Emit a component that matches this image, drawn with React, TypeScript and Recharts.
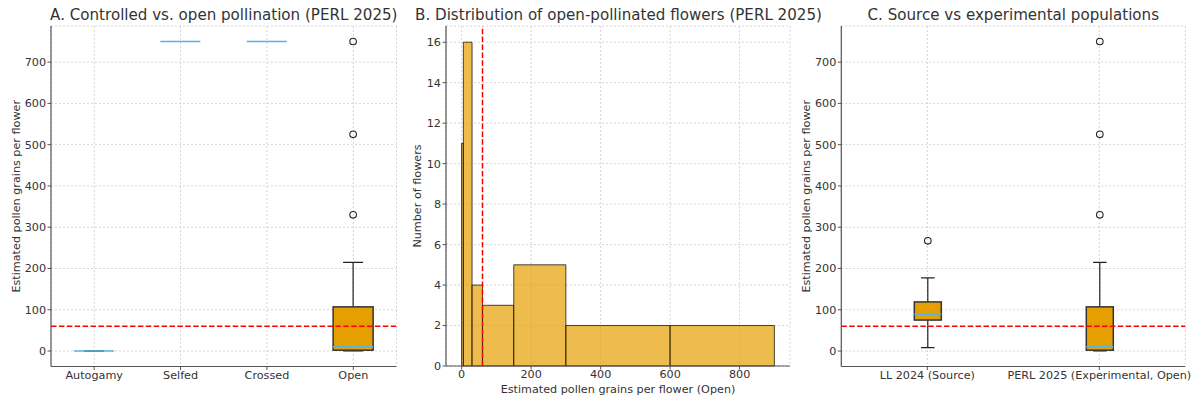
import React from 'react';
import {
  ComposedChart,
  Bar,
  Line,
  XAxis,
  YAxis,
  CartesianGrid,
  ReferenceLine,
  ReferenceArea,
  Label,
} from 'recharts';

// ---------- Data ----------
const groupsA = ['Autogamy', 'Selfed', 'Crossed', 'Open'];
const whiskerLowA = [0, 750, 750, 0];
const q1A = [0, 750, 750, 2];
const medianA = [0, 750, 750, 10];
const q3A = [0, 750, 750, 107];
const whiskerHighA = [0, 750, 750, 215];
const outliersA: number[][] = [[], [], [], [330, 525, 750]];

const groupsC = ['LL 2024 (Source)', 'PERL 2025 (Experimental, Open)'];
const whiskerLowC = [8, 0];
const q1C = [75, 2];
const medianC = [89, 10];
const q3C = [119, 107];
const whiskerHighC = [177, 215];
const outliersC: number[][] = [[267], [330, 525, 750]];

const binEdges = [0, 5, 30, 60, 150, 300, 600, 900];
const binCounts = [11, 16, 4, 3, 5, 2, 2];

const threshold = 60;

const yTicksBox = [0, 100, 200, 300, 400, 500, 600, 700];
const yDomainBox: [number, number] = [-37.5, 787.5];
const xTicksHist = [0, 200, 400, 600, 800];
const xDomainHist: [number, number] = [-45, 945];
const yTicksHist = [0, 2, 4, 6, 8, 10, 12, 14, 16];
const yDomainHist: [number, number] = [0, 16.8];

// ---------- Build tables ----------
const tableA = groupsA.map((name, i) => ({
  name,
  lo: whiskerLowA[i],
  q1: q1A[i],
  med: medianA[i],
  q3: q3A[i],
  hi: whiskerHighA[i],
  out: outliersA[i],
}));
const tableC = groupsC.map((name, i) => ({
  name,
  lo: whiskerLowC[i],
  q1: q1C[i],
  med: medianC[i],
  q3: q3C[i],
  hi: whiskerHighC[i],
  out: outliersC[i],
}));
const tableHist = binCounts.map((c, i) => ({
  lo: binEdges[i],
  hi: binEdges[i + 1],
  mid: (binEdges[i] + binEdges[i + 1]) / 2,
  count: c,
}));

// ---------- Styles ----------
const FONT = "'DejaVu Sans', sans-serif";
const TEXT = '#333333';
const AXIS = '#555555';
const GRID = '#d5d5d5';
const ORANGE = '#E69F00';
const BLUE = '#56B4E9';
const FS = 11.2;

const tickStyle = { fontSize: FS, fill: TEXT, fontFamily: FONT };
const labelStyle = { textAnchor: 'middle' as const, fontSize: FS, fill: TEXT, fontFamily: FONT };

const BoxShape = (props: any) => {
  const { x, y, width, height, payload } = props;
  const [d0, d1] = yDomainBox;
  const py = (v: number) => y + (height * (d1 - v)) / (d1 - d0);
  const cx = x + width / 2;
  const capHalf = width / 4;
  const boxTop = py(payload.q3);
  const boxBot = py(payload.q1);
  return (
    <g>
      <line x1={cx} x2={cx} y1={py(payload.hi)} y2={boxTop} stroke="#222" strokeWidth={1.2} />
      <line x1={cx} x2={cx} y1={boxBot} y2={py(payload.lo)} stroke="#222" strokeWidth={1.2} />
      <line x1={cx - capHalf} x2={cx + capHalf} y1={py(payload.hi)} y2={py(payload.hi)} stroke="#222" strokeWidth={1.2} />
      <line x1={cx - capHalf} x2={cx + capHalf} y1={py(payload.lo)} y2={py(payload.lo)} stroke="#222" strokeWidth={1.2} />
      {boxBot - boxTop > 0.5 && (
        <rect x={x} y={boxTop} width={width} height={boxBot - boxTop} fill={ORANGE} stroke="#333" strokeWidth={1.5} />
      )}
      <line x1={x} x2={x + width} y1={py(payload.med)} y2={py(payload.med)} stroke={BLUE} strokeWidth={1.6} />
      {payload.out.map((o: number, j: number) => (
        <circle key={'o' + j} cx={cx} cy={py(o)} r={3.3} fill="none" stroke="#222" strokeWidth={1.1} />
      ))}
    </g>
  );
};

const Title = ({ center, text }: { center: number; text: string }) => (
  <div
    style={{
      position: 'absolute',
      left: center - 300,
      width: 600,
      top: 5,
      textAlign: 'center',
      fontSize: 15.1,
      lineHeight: '20px',
      color: TEXT,
      fontFamily: FONT,
      whiteSpace: 'nowrap',
    }}
  >
    {text}
  </div>
);

const BoxPanel = ({
  data,
  width,
  yAxisWidth,
  marginRight,
  barSize,
  labelOffset,
}: {
  data: any[];
  width: number;
  yAxisWidth: number;
  marginRight: number;
  barSize: number;
  labelOffset: number;
}) => (
  <ComposedChart
    width={width}
    height={401}
    data={data}
    margin={{ top: 26, right: marginRight, bottom: 0, left: 0 }}
    barCategoryGap={0}
  >
    <CartesianGrid stroke={GRID} strokeDasharray="2 2" />
    <XAxis
      dataKey="name"
      type="category"
      height={34.5}
      tick={tickStyle}
      tickLine={{ stroke: AXIS }}
      tickSize={3.5}
      tickMargin={1}
      axisLine={{ stroke: AXIS, strokeWidth: 1.2 }}
      interval={0}
    />
    <YAxis
      type="number"
      domain={yDomainBox}
      ticks={yTicksBox}
      width={yAxisWidth}
      tick={tickStyle}
      tickLine={{ stroke: AXIS }}
      tickSize={3.5}
      tickMargin={1.5}
      axisLine={{ stroke: AXIS, strokeWidth: 1.2 }}
      allowDataOverflow
    >
      <Label
        value="Estimated pollen grains per flower"
        angle={-90}
        position="insideLeft"
        offset={labelOffset}
        style={labelStyle}
      />
    </YAxis>
    <Bar
      dataKey={() => yDomainBox}
      barSize={barSize}
      shape={<BoxShape />}
      isAnimationActive={false}
      fill="none"
    />
    <ReferenceLine y={threshold} stroke="#ff0000" strokeDasharray="5.5 2.4" strokeWidth={1.5} />
  </ComposedChart>
);

export default function App() {
  return (
    <div
      style={{
        position: 'absolute',
        left: 0,
        top: 0,
        width: 1196,
        height: 401,
        background: '#fff',
        fontFamily: FONT,
        overflow: 'hidden',
      }}
    >
      {/* Panel A */}
      <div style={{ position: 'absolute', left: 0, top: 0 }}>
        <BoxPanel data={tableA} width={400} yAxisWidth={51} marginRight={3.5} barSize={40} labelOffset={16} />
      </div>

      {/* Panel B */}
      <div style={{ position: 'absolute', left: 400, top: 0 }}>
        <ComposedChart
          width={400}
          height={401}
          data={tableHist}
          margin={{ top: 26, right: 10, bottom: 0, left: 0 }}
        >
          <CartesianGrid stroke={GRID} strokeDasharray="2 2" />
          <XAxis
            dataKey="mid"
            type="number"
            domain={xDomainHist}
            ticks={xTicksHist}
            height={35}
            tick={tickStyle}
            tickLine={{ stroke: AXIS }}
            tickSize={3.5}
            tickMargin={1}
            axisLine={{ stroke: AXIS, strokeWidth: 1.2 }}
            allowDataOverflow
          >
            <Label
              value="Estimated pollen grains per flower (Open)"
              position="insideBottom"
              offset={8}
              style={{ fontSize: FS, fill: TEXT, fontFamily: FONT }}
            />
          </XAxis>
          <YAxis
            type="number"
            domain={yDomainHist}
            ticks={yTicksHist}
            width={46}
            tick={tickStyle}
            tickLine={{ stroke: AXIS }}
            tickSize={3.5}
            tickMargin={1.5}
            axisLine={{ stroke: AXIS, strokeWidth: 1.2 }}
            allowDataOverflow
          >
            <Label value="Number of flowers" angle={-90} position="insideLeft" offset={17.5} style={labelStyle} />
          </YAxis>
          <Line dataKey="count" stroke="none" dot={false} isAnimationActive={false} legendType="none" />
          {tableHist.map((b, i) => (
            <ReferenceArea
              key={'bin' + i}
              x1={b.lo}
              x2={b.hi}
              y1={0}
              y2={b.count}
              fill={ORANGE}
              fillOpacity={0.7}
              stroke="#000"
              strokeOpacity={0.7}
              strokeWidth={1}
              ifOverflow="visible"
            />
          ))}
          <ReferenceLine x={threshold} stroke="#ff0000" strokeDasharray="5.5 2.4" strokeWidth={1.5} />
        </ComposedChart>
      </div>

      {/* Panel C */}
      <div style={{ position: 'absolute', left: 800, top: 0 }}>
        <BoxPanel data={tableC} width={396} yAxisWidth={41.3} marginRight={10.7} barSize={27} labelOffset={6.5} />
      </div>

      <Title center={223.8} text="A. Controlled vs. open pollination (PERL 2025)" />
      <Title center={618.5} text="B. Distribution of open-pollinated flowers (PERL 2025)" />
      <Title center={1013.3} text="C. Source vs experimental populations" />
    </div>
  );
}
